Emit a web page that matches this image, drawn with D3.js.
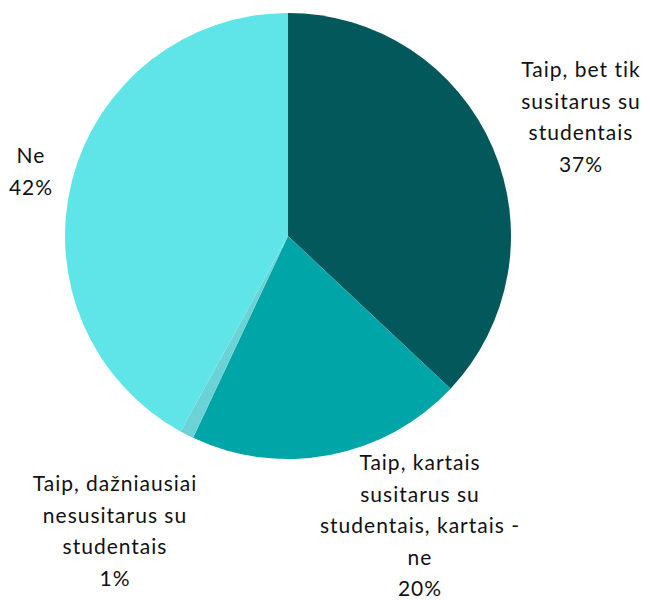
<!DOCTYPE html>
<html>
<head>
<meta charset="utf-8">
<script src="https://cdn.jsdelivr.net/npm/d3@7"></script>
<style>
    body { margin: 0; background: white; }
</style>
</head>
<body>
<svg id="chart" width="650" height="600"></svg>
<script>
// duomenys
const labels = [
    ["Taip, bet tik", "susitarus su", "studentais"],
    ["Taip, kartais", "susitarus su", "studentais, kartais -", "ne"],
    ["Taip, dažniausiai", "nesusitarus su", "studentais"],
    ["Ne"]
];
const values = [37, 20, 1, 42];
const colors = ["#02585B", "#00A5A8", "#6BD3D5", "#5FE5E7"];
// etikečių vieta
const labelX = [581, 420, 115, 31];
const labelY = [77, 470, 491, 163];

window.addEventListener("load", main);

function main()
{
    const svg = d3.select("svg#chart");
    const cx = 288, cy = 236, r = 223;
    const lineH = 31.5;

    const pie = d3.pie().sort(null).value(d => d);
    const arc = d3.arc().innerRadius(0).outerRadius(r);

    const g = svg.append("g").attr("transform", `translate(${cx},${cy})`);
    g.selectAll("path.slice").data(pie(values)).join("path")
        .attr("class", "slice")
        .attr("d", arc)
        .attr("fill", (d, i) => colors[i]);

    // etiketės
    const txt = svg.selectAll("text.lbl").data(labels).join("text")
        .attr("class", "lbl")
        .attr("x", (d, i) => labelX[i])
        .attr("y", (d, i) => labelY[i])
        .attr("text-anchor", "middle")
        .attr("font-family", "Lato, 'Noto Sans', sans-serif")
        .attr("font-size", "21px")
        .attr("letter-spacing", "1px")
        .attr("fill", "#111");

    txt.each(function(d, i)
    {
        const lines = d.concat([values[i] + "%"]);
        d3.select(this).selectAll("tspan").data(lines).join("tspan")
            .attr("x", labelX[i])
            .attr("dy", (l, j) => j === 0 ? 0 : lineH)
            .text(l => l);
    });
}
</script>
</body>
</html>
